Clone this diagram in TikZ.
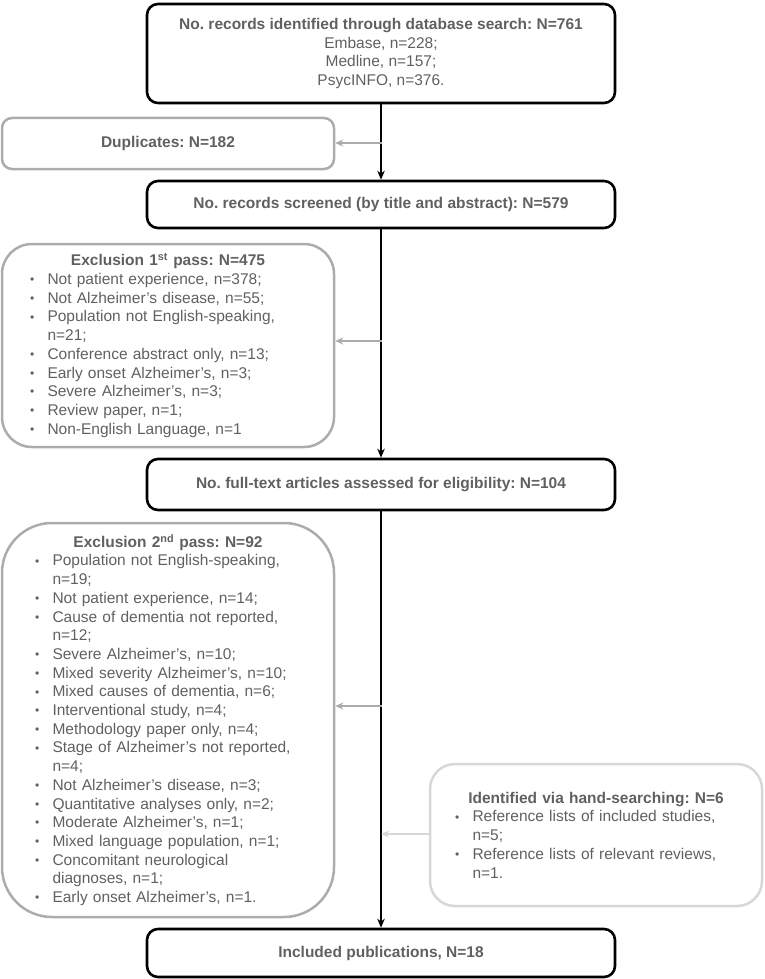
\documentclass[tikz,border=0pt]{standalone}
\usepackage{fontspec}
\setmainfont{Liberation Sans}
\usepackage{xcolor}
\definecolor{grisTexto}{RGB}{96,96,96}
\definecolor{grisBorde}{RGB}{172,172,172}
\definecolor{grisClaro}{RGB}{215,215,215}
\usepackage{tikz}
\usetikzlibrary{arrows.meta,positioning}
\newcommand{\tamano}{\fontsize{15.5pt}{18.7pt}\selectfont\frenchspacing}
\newcommand{\bitem}[1]{\par\hangindent=17.5pt\hangafter=1\noindent
  \makebox[17.5pt][l]{\raisebox{0.8pt}{\fontsize{12pt}{12pt}\selectfont\textbullet}}#1\par}
\tikzstyle{mainbox}=[draw=black, line width=2.6pt, rounded corners=11pt,
                    text=grisTexto, font=\tamano\bfseries, align=center,
                    minimum width=468pt, inner sep=0pt]
\tikzstyle{sidebox}=[draw=grisBorde, line width=2.5pt, text=grisTexto,
                    font=\tamano, align=left, inner sep=0pt]
\tikzstyle{edge}  =[-{Stealth[length=9pt,width=7.5pt]}, line width=1.9pt, black]
\tikzstyle{gedge} =[-{Stealth[length=8pt,width=7pt]}, line width=1.6pt, grisBorde]

\begin{document}
\begin{tikzpicture}[x=1pt,y=-1pt]

    \useasboundingbox (0,0) rectangle (764,979);

    \node[mainbox, minimum height=99pt] (busqueda) at (381,53.5)
        {No. records identified through database search: N=761\\
         \mdseries Embase, n=228;\\
         \mdseries Medline, n=157;\\
         \mdseries PsycINFO, n=376.};
    \node[mainbox, minimum height=47pt] (cribado) at (381,204.5)
        {No. records screened (by title and abstract): N=579};
    \node[mainbox, minimum height=51pt] (textocompleto) at (381,484.5)
        {No. full-text articles assessed for eligibility: N=104};
    \node[mainbox, minimum height=48pt] (incluidos) at (381,953)
        {Included publications, N=18};

    \node[sidebox, rounded corners=10pt, minimum width=332pt, minimum height=51pt,
          font=\tamano\bfseries] (duplicados) at (168,143.5) {Duplicates: N=182};

    \node[sidebox, rounded corners=30pt, minimum width=332pt, minimum height=203pt,
          text width=276pt] (excl1) at (168,345.5)
        {{\centering\bfseries Exclusion 1\textsuperscript{st} pass: N=475\par}
         \bitem{Not patient experience, n=378;}
         \bitem{Not Alzheimer's disease, n=55;}
         \bitem{Population not English-speaking,\newline n=21;}
         \bitem{Conference abstract only, n=13;}
         \bitem{Early onset Alzheimer's, n=3;}
         \bitem{Severe Alzheimer's, n=3;}
         \bitem{Review paper, n=1;}
         \bitem{Non-English Language, n=1}};

    \node[sidebox, rounded corners=50pt, minimum width=332pt, minimum height=394pt,
          text width=266pt] (excl2) at (168,720)
        {{\centering\bfseries Exclusion 2\textsuperscript{nd} pass: N=92\par}
         \bitem{Population not English-speaking,\newline n=19;}
         \bitem{Not patient experience, n=14;}
         \bitem{Cause of dementia not reported,\newline n=12;}
         \bitem{Severe Alzheimer's, n=10;}
         \bitem{Mixed severity Alzheimer's, n=10;}
         \bitem{Mixed causes of dementia, n=6;}
         \bitem{Interventional study, n=4;}
         \bitem{Methodology paper only, n=4;}
         \bitem{Stage of Alzheimer's not reported,\newline n=4;}
         \bitem{Not Alzheimer's disease, n=3;}
         \bitem{Quantitative analyses only, n=2;}
         \bitem{Moderate Alzheimer's, n=1;}
         \bitem{Mixed language population, n=1;}
         \bitem{Concomitant neurological\newline diagnoses, n=1;}
         \bitem{Early onset Alzheimer's, n=1.}};

    \node[sidebox, draw=grisClaro, rounded corners=25pt, minimum width=332pt,
          minimum height=142pt, text width=282pt] (manual) at (596,835)
        {{\centering\bfseries Identified via hand-searching: N=6\par}
         \bitem{Reference lists of included studies,\newline n=5;}
         \bitem{Reference lists of relevant reviews,\newline n=1.}};

    \coordinate (c1) at (382,143);
    \coordinate (c2) at (382,341);
    \coordinate (c3) at (382,706);
    \coordinate (c4) at (381,834);

    \draw[edge] (busqueda) -- (cribado);
    \draw[edge] (cribado) -- (textocompleto);
    \draw[edge] (textocompleto) -- (incluidos);

    \foreach \c/\b in {c1/duplicados,c2/excl1,c3/excl2}
        \draw[gedge] (\c) -- (\b.east |- \c);
    \draw[gedge,grisClaro] (manual.west |- c4) -- (c4);

\end{tikzpicture}
\end{document}
